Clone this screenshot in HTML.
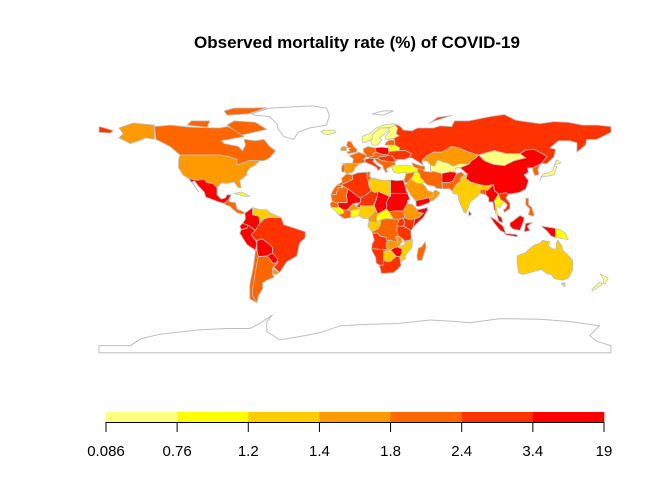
<!DOCTYPE html>
<html><head><meta charset="utf-8">
<style>
html,body{margin:0;padding:0;background:#fff;}
svg{display:block;font-family:"Liberation Sans",Arial,sans-serif;}
</style></head>
<body>
<svg id="chart" width="672" height="480" viewBox="0 0 672 480" xmlns="http://www.w3.org/2000/svg">
<rect width="672" height="480" fill="#fff"/>
<text x="357" y="48" text-anchor="middle" font-size="17" font-weight="bold" fill="#000">Observed mortality rate (%) of COVID-19</text>
<g id="map"></g>
<g id="legend"></g>
</svg>
<script>
const breaks = [0.086, 0.76, 1.2, 1.4, 1.8, 2.4, 3.4, 19];
const breakLabels = ["0.086", "0.76", "1.2", "1.4", "1.8", "2.4", "3.4", "19"];
const palette = ["#FFFF80", "#FFFF00", "#FFCC00", "#FF9900", "#FF6600", "#FF3300", "#FF0000"];
const countries = ["canada","alaska","usa","mexico","central-america","cuba","colombia","venezuela","guianas","ecuador","peru","bolivia","brazil","paraguay","uruguay","argentina","chile",
"norway","sweden","finland","uk","ireland","france","spain","portugal","germany","italy","poland","central-europe","hungary-romania","balkans","belarus","baltics","ukraine","turkey","caucasus","russia","chukotka","novaya-zemlya","kazakhstan","central-asia","mongolia","china","korea","japan","hokkaido","afghanistan","pakistan","iran","iraq","levant","saudi-arabia","yemen","oman","india","bangladesh","sri-lanka","myanmar","thailand","indochina","malaysia","sumatra","java","borneo","sulawesi","west-papua","png","philippines","australia","tasmania","nz-north","nz-south",
"morocco","western-sahara","algeria","tunisia","libya","egypt","mauritania","mali","niger","chad","sudan","south-sudan","ethiopia","somalia","senegal","guinea","ivory-coast","burkina-faso","ghana","nigeria","cameroon","car","gabon-congo","drc","uganda","kenya","tanzania","angola","zambia","mozambique","zimbabwe","namibia","botswana","south-africa","madagascar","iceland","baffin","ellesmere","victoria-island"];
const values = [2.0,1.6,1.6,10.0,2.0,1.0,3.5,1.3,1.3,5.0,3.8,4.5,2.8,3.5,1.6,2.0,2.0,
0.5,0.5,0.5,2.0,1.6,2.0,1.6,2.0,2.0,3.0,4.0,2.0,3.0,2.0,0.9,2.0,3.0,0.9,2.0,3.0,3.0,3.0,1.6,0.5,0.5,5.0,2.0,0.5,0.5,4.0,2.0,2.0,0.9,2.0,1.6,6.0,1.6,1.3,2.0,4.0,4.0,0.9,2.8,4.0,4.0,4.0,4.0,4.0,4.0,0.9,2.0,1.3,1.3,0.5,0.5,
2.0,2.0,3.0,2.0,1.3,5.0,2.0,4.0,3.0,4.5,4.0,2.0,1.6,5.0,2.0,0.9,2.0,1.6,0.9,1.3,1.6,0.9,1.3,2.0,3.0,3.0,3.0,3.0,1.6,1.3,4.0,3.0,1.3,3.0,2.0,0.5,2.0,2.0,2.0];
const shapes = [
[[-141,69],[-130,70],[-115,68.5],[-95,68],[-90,69],[-82,66],[-78,62],[-94,59],[-92,57],[-82,55],[-79,52],[-77,56],[-78,60],[-70,59],[-64,60],[-60,55],[-56,52],[-60,47],[-64,45],[-67,45],[-71,45],[-75,45],[-80,43],[-83,42],[-83,46],[-89,48],[-95,49],[-123,49],[-130,55],[-140,60]],
[[-141,60],[-141,70],[-156,71.5],[-166,68],[-163,64],[-166,61],[-158,57],[-152,59],[-147,61]],
[[-123,49],[-95,49],[-89,48],[-83,46],[-83,42],[-79,43],[-75,45],[-71,45],[-67,45],[-70,42],[-74,40],[-76,37],[-76,35],[-81,31],[-80,26],[-82,26],[-85,30],[-90,29],[-94,29.5],[-97,26],[-100,29],[-104,29.5],[-106,31.8],[-111,31.3],[-117,32.5],[-121,35],[-124,40],[-124,46]],
[[-117,32.5],[-111,31.3],[-106,31.8],[-104,29.5],[-100,29],[-97,26],[-97,21],[-94,18],[-91,19],[-90,21],[-87,21],[-89,17.5],[-92,15],[-96,16],[-105,19.5],[-106,23],[-110,27],[-113,31],[-114.5,30],[-110,23],[-112,26],[-115,30]],
[[-92,15],[-89,17.5],[-88,16],[-84,15.5],[-83,11],[-79,9.5],[-77.5,8],[-80,7.5],[-83,8.5],[-86,11],[-88,13],[-91,14]],
[[-85,22],[-80,23],[-74,20],[-78,20]],
[[-77.5,8],[-72,12],[-72,7],[-67.5,6],[-67,1],[-70,-4],[-73,-2],[-79,1],[-77,4]],
[[-72,12],[-67,10.6],[-62,10.5],[-60,8.5],[-61,5],[-64,4],[-67,1],[-67.5,6],[-72,7]],
[[-60,8.5],[-52,5],[-54,2],[-58,1.5],[-61,5]],
[[-79,1],[-75,-0.5],[-76,-2.5],[-80,-3.5],[-81,-1]],
[[-80,-3.5],[-76,-2.5],[-75,-0.5],[-73,-2],[-70,-4],[-73,-7],[-70,-11],[-69,-13],[-70,-18],[-76,-14],[-81,-6]],
[[-69,-11],[-65,-10],[-60,-14],[-58,-16],[-58,-20],[-62,-22],[-68,-22.5],[-69,-18],[-69,-13]],
[[-60,5],[-52,5],[-50,0],[-44,-2],[-35,-5],[-35,-9],[-39,-13],[-41,-22],[-48,-26],[-53,-33.7],[-57,-30],[-54,-26],[-58,-22],[-58,-16],[-60,-14],[-65,-10],[-69,-11],[-70,-11],[-73,-7],[-70,-4],[-67,1],[-64,4],[-61,5]],
[[-62,-22],[-58,-20],[-54.5,-24],[-55,-27],[-58,-27],[-60,-24]],
[[-58,-30.5],[-53.5,-33.7],[-55,-35],[-58,-34.5]],
[[-68,-22.5],[-62,-22],[-60,-24],[-58,-27],[-55,-27],[-58,-30.5],[-58,-34.5],[-57,-37],[-62,-39],[-65,-41],[-65,-45],[-68,-50],[-69,-55],[-72,-50],[-72,-45],[-71,-40],[-70,-33],[-69,-27]],
[[-70,-18],[-69,-18],[-68,-22.5],[-69,-27],[-70,-33],[-71,-40],[-72,-45],[-72,-50],[-69,-55],[-74,-52],[-74,-42],[-71.5,-30],[-70.5,-23]],
[[5,58],[5,62],[10,64],[15,68],[20,70],[28,71],[30,70],[25,68.5],[18,68],[14,65],[12,63],[12,60],[8,58]],
[[12,56],[11,59],[12,60],[12,63],[14,65],[18,68],[24,68],[24,66],[21,64],[17,61],[19,59.5],[16,56]],
[[24,66],[24,68],[25,68.5],[28,70],[30,68],[29,64],[31,62.5],[27,60.5],[22,60],[21,62],[24,65]],
[[-5,50],[1,51],[1.5,53],[-1,55],[-2,57],[-3,58.5],[-5,58.5],[-6,56],[-5,54],[-3,54],[-4.5,53],[-3.5,51.5],[-5.5,51.5]],
[[-10,52],[-6,52],[-6,54.5],[-8,55.3],[-10,54]],
[[-4.5,48.5],[-1,49.5],[2.5,51],[8,49],[7.5,47.5],[6,46],[7.5,44],[3,43],[-1.8,43.3],[-1,46],[-2.5,47.5]],
[[-9,43],[-1.8,43.3],[3,42.5],[0,40],[-0.5,38],[-2,36.7],[-5.5,36],[-7.5,37.2],[-7,39],[-7,42]],
[[-9,42],[-7,42],[-7,39],[-7.5,37.2],[-9,37],[-9.5,39]],
[[6,51],[6,53.5],[9,55],[14,54],[15,51],[12.5,50],[13.5,48.5],[10,47.5],[7.5,47.5],[8,49]],
[[7,44],[7,46],[10.5,46.8],[13.5,46.5],[12.5,44.5],[16,41.5],[18.5,40],[16,38],[15.5,40],[12,42]],
[[14,54],[19,54.5],[23.5,54],[24,50.5],[22.5,49],[19,49.5],[15,51]],
[[12.5,50],[15,51],[19,49.5],[22.5,49],[22,48],[17,47.8],[16,46.5],[13.5,46.5],[10.5,46.8],[10,47.5],[13.5,48.5]],
[[16,46.5],[17,47.8],[22,48],[22.5,49],[26.5,48.2],[28,45.5],[29.5,45],[27,44],[22.5,44.5],[19,45]],
[[13.5,46.5],[16,46.5],[19,45],[22.5,44.5],[27,44],[28.5,43.5],[28,42],[26,41],[24,40.5],[22,39],[23,37],[21.5,37],[20,39.5],[19.5,41.5],[15.5,44]],
[[23.5,54],[24,56],[28,56],[31.5,54],[31,52],[24,51.5],[23.5,52]],
[[21,56],[21.5,57.5],[24,59.5],[28,59.5],[28,56],[24,56]],
[[24,51.5],[31,52],[35,52.3],[40,50],[38,47],[35,46],[33,46],[30,46],[28,45.5],[26.5,48.2],[22.5,49],[24,50.5]],
[[26,40],[26,42],[29,41.2],[35,42],[41,41],[44.5,40],[44,37],[42,37],[36,36],[36,36.8],[30,36.2],[27,37]],
[[40,43.5],[46,41.5],[49,41],[49,38.5],[44.5,39],[41,41]],
[[28,59.5],[28,56],[31.5,54],[31,52],[35,52.3],[40,50],[38,47],[40,47],[48,42],[47,45],[50,48],[55,51],[61,51],[68,55],[73,54],[80,51],[87,49],[92,50.5],[98,52],[106,50],[116,50],[120,52.5],[126,53],[135,48],[131,43],[135,43],[140,48],[141,53],[137,54],[143,59],[151,59],[156,57.5],[156,51],[162,56],[163,60],[170,60],[180,65],[180,69],[170,70],[160,70],[150,72],[140,72.5],[130,71],[113,73.5],[105,77.5],[95,76],[80,73],[70,73],[68,69],[60,69.5],[55,68],[44,68],[40,66],[34,66.5],[32,69],[30,70],[28,70],[30,68],[29,64],[31,62.5],[27,60.5]],
[[-180,65],[-172,64.5],[-170,66],[-176,68],[-180,69]],
[[52,71],[58,75.5],[68,76.8],[56,73]],
[[47,45],[50,48],[55,51],[61,51],[68,55],[73,54],[80,51],[87,49],[85,47],[82,45],[80,42.5],[74,43],[69,41],[66,43],[62,44],[58,45.5],[56,41],[53,42],[51,44.5]],
[[53,42],[56,41],[58,45.5],[62,44],[66,43],[69,41],[74,43],[80,42.5],[75,40],[71,40],[70,37],[67,37.3],[61,36],[55,37.5],[53,38]],
[[87,49],[92,50.5],[98,52],[106,50],[116,50],[120,47],[112,45],[105,41.5],[97,42.5],[91,45]],
[[74,40],[80,42.5],[82,45],[85,47],[87,49],[91,45],[97,42.5],[105,41.5],[112,45],[120,47],[116,50],[120,52.5],[126,53],[135,48],[131,43],[125,40],[121,40],[122,37],[119,35],[122,31],[120,25],[115,22.5],[108,21.5],[106,22.5],[101,21.5],[98,24],[97.5,28],[92,27.5],[88,28],[81,30],[78,32.5],[79,35.5]],
[[125,38],[126.5,34.5],[129.5,35.5],[128.5,38.5],[130,42.5],[125,40]],
[[130,31],[131,34],[135,34],[140,35],[141,38],[142,41],[140,41],[139,38],[136,36.5],[132,35.5]],
[[140,42],[145,43.5],[142,45.5]],
[[61,36],[67,37.3],[70,37],[71.5,36],[69,31],[66,29.5],[61,29.5],[61,31.5]],
[[61,29.5],[66,29.5],[69,31],[71.5,36],[75,37],[77,35],[74,32.5],[74.5,31],[71,28],[70,26],[68,23.7],[66.5,25.4],[61.6,25.2]],
[[44,39.5],[48,38.5],[49,37.5],[54,37],[55,37.5],[61,36],[61,31.5],[61,29.5],[61.6,25.2],[57,25.7],[56,27],[51,28],[48.5,30],[48,31],[46,33],[45.5,35.5],[44,37]],
[[42,37],[44,37],[45.5,35.5],[46,33],[48,31],[48.5,30],[47,29],[44,29],[39,32],[41,34.5]],
[[36,36.8],[36,36],[42,37],[41,34.5],[39,32],[37,29.5],[35,29.5],[34.5,31.5],[35.5,34.5]],
[[37,29.5],[39,32],[44,29],[47,29],[48.5,28],[50,26],[51,24],[55,22.7],[55,20],[52,19],[48,18],[43,17],[42.8,16.5],[39,21],[35,28]],
[[42.8,16.5],[43,13],[45,12.8],[52,15.5],[53,16.6],[52,19],[48,18],[43,17]],
[[55,22.7],[56.5,24.5],[59.8,22.5],[58,20],[55,17],[53,16.6],[52,19],[55,20]],
[[68,23.7],[70,26],[71,28],[74.5,31],[74,32.5],[77,35],[79,35.5],[78,32.5],[81,30],[88,28],[92,27.5],[97,28],[95,26],[93,24],[92,22],[88,22],[86,20],[81,16],[80,13],[78,8],[76.5,9],[73,17],[72.5,21],[69,22]],
[[88,22],[88,24.5],[92,25],[92,21]],
[[80,6],[82,7.5],[80,9.8]],
[[92,21],[92,25],[93,24],[95,26],[97,28],[98,24],[101,21.5],[100,20],[98,17],[99,10],[98,10],[97,16],[94,16],[94,19]],
[[98,17],[100,20],[101,21.5],[102,18],[105,16],[103,14.5],[102,12],[100,13],[99.5,10],[101,6.5],[100,6.5],[98.5,8],[99,10]],
[[101,21.5],[106,22.5],[108,21.5],[106,19],[109,15],[109,11.5],[105,8.6],[104.5,10.5],[106,11.5],[107,14],[105,16],[102,18]],
[[100,6.5],[101,6.5],[103,5],[104,1.4],[101,2.5]],
[[95,5.5],[98,4],[104,-1],[106,-6],[102,-4],[98,1]],
[[105,-6],[114,-7],[114,-8.5],[106,-7]],
[[109,1.5],[111,2.5],[116,6.5],[119,5],[118,1],[117,-1],[116,-4],[111,-3],[109,-1]],
[[119,-5],[120,1],[125,1.5],[121,-1],[123,-4]],
[[131,-1],[141,-2.5],[141,-9],[138,-8],[135,-4.5]],
[[141,-2.5],[145,-4],[148,-6],[150,-10.5],[147,-10],[141,-9]],
[[120,18.5],[122,18.5],[122,14],[124,12.5],[126,7],[125,6],[122,7],[123,11],[120,14]],
[[114,-22],[114,-26],[115,-34],[118,-35],[124,-33.5],[131,-31.5],[135,-34.5],[138,-35],[140,-38],[146,-39],[150,-37.5],[153,-32],[153,-25],[149,-20.5],[146,-18],[145.5,-15],[142.5,-10.7],[141.5,-13],[141.5,-17],[139,-17],[136,-15],[137,-12],[132,-11],[130,-13],[127,-14],[125,-15],[122,-17.5],[120,-19.7],[116,-21]],
[[145,-41],[148,-41],[147,-43.5]],
[[172.5,-34.5],[178,-37.5],[176,-41.5],[174.5,-41],[175,-39]],
[[172,-40.5],[174,-41.5],[171,-44],[167,-46.5],[166.5,-45.5]],
[[-13,27.7],[-9,30],[-9.5,32.5],[-6,35.8],[-2,35],[-1.5,32],[-5,30],[-8.7,28.7],[-8.7,27.7]],
[[-17,21],[-13,21.3],[-13,23],[-8.7,27.7],[-13,27.7],[-15,25]],
[[-8.7,27.7],[-8.7,28.7],[-5,30],[-1.5,32],[-2,35],[2,36.5],[8.6,37],[8.5,34],[9.5,30],[9.8,27],[11.5,24],[7.5,20.8],[4,19],[3.2,19],[-4.8,25],[-8.7,27.3]],
[[8.6,37],[11,37],[10,34],[11.5,33],[9.5,30],[8.5,34]],
[[9.5,30],[11.5,33],[15,32.3],[20,31],[25,31.5],[25,20],[24,20],[24,19.5],[16,23.5],[14,22.5],[11.5,24],[9.8,27]],
[[25,31.5],[29,31],[34,31.3],[34.5,29.5],[36,24],[37,22],[25,22]],
[[-17,21],[-16,16.5],[-12,15],[-11.5,15.5],[-5.5,15.5],[-5.5,16.5],[-6,21],[-4.8,25],[-8.7,27.3],[-8.7,25.8],[-12,26],[-12,23.5],[-13,23],[-13,21.3]],
[[-12,15],[-11.5,12.5],[-8,10.2],[-5.5,10.5],[-4,12],[-1,15],[3.5,15.4],[4,16.5],[4,19],[3.2,19],[-4.8,25],[-6,21],[-5.5,16.5],[-5.5,15.5],[-11.5,15.5]],
[[4,19],[4,16.5],[3.5,15.4],[1,13],[3,11.8],[4,13.5],[8,13],[13,13.5],[15.7,19.9],[16,23.5],[14,22.5],[11.5,24],[7.5,20.8]],
[[15.7,19.9],[13.5,13.5],[14.5,10],[13.9,9],[16,7.5],[22,11],[22.5,13],[22,15.5],[24,19.5],[24,20],[16,23.5]],
[[24,19.5],[22,15.5],[22.5,13],[22,11],[24,9],[27,9.5],[31,9.7],[34,9.5],[35,12],[36.5,14],[37,17],[38.5,18],[37,22],[25,22],[25,20]],
[[24,9],[27,4],[31,3.7],[34,4.6],[35,5],[34,9.5],[31,9.7],[27,9.5]],
[[34,9.5],[35,5],[38,3.6],[42,4],[45,5],[48,8],[44,9],[43,11.5],[40,14.5],[37,14.5],[36.5,14],[35,12]],
[[42,4],[41,-1.7],[44,1.5],[48,5],[51,10.5],[51,12],[44,10.5],[43,11.5],[44,9],[48,8],[45,5]],
[[-17.5,14.7],[-16,16.5],[-12,15],[-11.5,12.5],[-13.5,12],[-16.8,12.3]],
[[-16.8,12.3],[-13.5,12],[-11.5,12.5],[-8,10.2],[-8,8],[-11.5,6.9],[-13.5,9.5],[-15,11]],
[[-11.5,6.9],[-8,8],[-8,10.2],[-5.5,10.5],[-2.5,10],[-3,5],[-7.5,4.3]],
[[-5.5,10.5],[-4,12],[-1,15],[1,13],[2.3,11],[-2.8,9.6]],
[[-3,5],[-2.8,9.6],[-2.5,10],[2.3,11],[3,11.8],[3.6,10],[2.7,6.3],[1,6],[-2,4.8]],
[[2.7,6.3],[3.6,10],[3,11.8],[4,13.5],[8,13],[13,13.5],[14.5,10],[13.9,9],[12,7],[9.5,4.5],[6,4.3]],
[[9.5,4.5],[12,7],[13.9,9],[14.5,10],[13.5,13.5],[15,10],[16,7.5],[15,4],[16,2],[9.8,2.2]],
[[16,7.5],[22,11],[24,9],[27,4],[22,4.2],[18.5,3.5],[16,2],[15,4]],
[[9.8,2.2],[16,2],[18.5,3.5],[17.5,-1],[16,-3],[12,-5],[9,-1]],
[[18.5,3.5],[22,4.2],[27,4],[31,3.7],[30,1],[29.5,-4],[30.5,-8],[28.5,-8.5],[30,-12.5],[28,-12],[25,-11],[22,-11],[22,-9],[17.5,-8],[16,-6],[12.2,-6],[12,-5],[16,-3],[17.5,-1]],
[[30,1],[31,3.7],[34,4.6],[35,1],[34,-1],[29.5,-1]],
[[34,4.6],[35,5],[38,3.6],[42,4],[41,-1.7],[39.3,-4.6],[37.5,-3],[34,-1],[35,1]],
[[29.5,-1],[34,-1],[37.5,-3],[39.3,-4.6],[39.5,-10.5],[35,-11.5],[33,-9.5],[30.5,-8],[29.5,-4]],
[[12.2,-6],[16,-6],[17.5,-8],[22,-9],[22,-11],[24,-11],[22,-13],[22,-16],[23.5,-17.5],[20,-17.5],[13,-17],[11.7,-17],[12,-13.5],[13.5,-11],[13,-9]],
[[22,-13],[24,-11],[25,-11],[28,-12],[30,-12.5],[28.5,-8.5],[30.5,-8],[33,-9.5],[33,-12],[30.5,-15.5],[28,-16],[25,-17.8],[23.5,-17.5],[22,-16]],
[[33,-12],[35,-11.5],[40.5,-10.5],[40,-16],[35,-22],[35.5,-24],[33,-25.5],[32.5,-26.8],[31.5,-23],[32.5,-21],[33,-17],[30.5,-16],[30.5,-15.5],[35,-14],[35,-12]],
[[25,-17.8],[28,-16],[30.5,-15.5],[30.5,-16],[33,-17],[32.5,-21],[31.5,-22.3],[29,-22.2],[26,-19]],
[[11.7,-17],[13,-17],[20,-17.5],[23.5,-17.5],[25,-17.8],[20,-18.5],[20,-22],[20,-28.5],[17,-28.5],[15,-27],[14.5,-23],[12,-18.5]],
[[20,-18.5],[25,-17.8],[26,-19],[29,-22.2],[27,-24],[25,-25.7],[22,-26],[20,-24.8],[20,-22]],
[[17,-28.5],[20,-28.5],[20,-24.8],[22,-26],[25,-25.7],[27,-24],[29,-22.2],[31.5,-22.3],[32,-26.8],[32.5,-28.5],[30,-31.3],[27,-33.7],[22,-34],[18.5,-34.2],[18,-31.5]],
[[44,-25],[47,-25],[50,-15.5],[49.3,-12],[47,-15.5],[44.5,-16.5],[43.5,-22]],
[[-24,65.5],[-22,66.5],[-15,66.5],[-13.5,65],[-18,63.4],[-22,63.8]],
[[-80,63],[-62,67],[-70,72],[-85,73],[-90,70]],
[[-90,77],[-75,78],[-62,82.3],[-85,82],[-92,80]],
[[-118,70],[-104,68.5],[-102,73],[-115,73]]
];
const noData = [
[[-73,78],[-60,82],[-30,83.5],[-20,82],[-18,77],[-20,70],[-32,68],[-40,65],[-43,60],[-50,62],[-54,67],[-55,71],[-60,76],[-70,77]],
[[12,78],[20,80],[27,80],[20,77]],
[[-180,-85],[-158,-85],[-150,-80],[-137,-77],[-110,-74],[-90,-73],[-74,-73],[-68,-70],[-58,-63.5],[-62,-68],[-62,-75],[-53,-81],[-35,-78],[-25,-76],[-10,-71],[10,-70],[30,-69.5],[53,-67],[70,-68],[81,-69],[102,-66],[130,-66.5],[150,-68],[172,-71],[165,-78],[170,-82],[180,-85],[180,-90],[-180,-90]]
];
const NS = "http://www.w3.org/2000/svg";
const sc = 512/360;
function px(lon){ return 99 + (lon+180)*sc; }
function py(lat){ return 224.7 - lat*sc; }
function colorFor(v){
  for (let i=0;i<palette.length;i++){ if (v <= breaks[i+1]) return palette[i]; }
  return palette[palette.length-1];
}
function pts(poly){ return poly.map(p => px(p[0]).toFixed(1)+","+py(p[1]).toFixed(1)).join(" "); }
const map = document.getElementById("map");
noData.forEach((poly, i) => {
  const el = document.createElementNS(NS, "polygon");
  el.setAttribute("points", pts(poly));
  el.setAttribute("fill", "#fff");
  el.setAttribute("stroke", "#BEBEBE");
  el.setAttribute("stroke-width", "1");
  
  
  map.appendChild(el);
});
countries.forEach((name, i) => {
  const el = document.createElementNS(NS, "polygon");
  el.setAttribute("points", pts(shapes[i]));
  el.setAttribute("fill", colorFor(values[i]));
  el.setAttribute("stroke", "#BEBEBE");
  el.setAttribute("stroke-width", "0.8");
  el.setAttribute("stroke-linejoin", "round");
  
  
  map.appendChild(el);
});
const legend = document.getElementById("legend");
const lx0 = 106, lx1 = 604, ly = 412, lh = 10;
const segW = (lx1 - lx0) / palette.length;
palette.forEach((c, i) => {
  const r = document.createElementNS(NS, "rect");
  r.setAttribute("x", lx0 + i*segW); r.setAttribute("y", ly);
  r.setAttribute("width", segW + 0.3); r.setAttribute("height", lh);
  r.setAttribute("fill", c);
  
  
  legend.appendChild(r);
});
const axis = document.createElementNS(NS, "line");
axis.setAttribute("x1", lx0); axis.setAttribute("x2", lx1);
axis.setAttribute("y1", ly+lh+0.5); axis.setAttribute("y2", ly+lh+0.5);
axis.setAttribute("stroke", "#000");


legend.appendChild(axis);
breakLabels.forEach((lab, i) => {
  const x = lx0 + i*segW;
  const t = document.createElementNS(NS, "line");
  t.setAttribute("x1", x); t.setAttribute("x2", x);
  t.setAttribute("y1", ly+lh); t.setAttribute("y2", ly+lh+10);
  t.setAttribute("stroke", "#000");
  
  
  legend.appendChild(t);
  const tx = document.createElementNS(NS, "text");
  tx.setAttribute("x", x); tx.setAttribute("y", 456);
  tx.setAttribute("text-anchor", "middle");
  tx.setAttribute("font-size", "15");
  tx.textContent = lab;
  
  
  legend.appendChild(tx);
});
</script>
</body></html>
